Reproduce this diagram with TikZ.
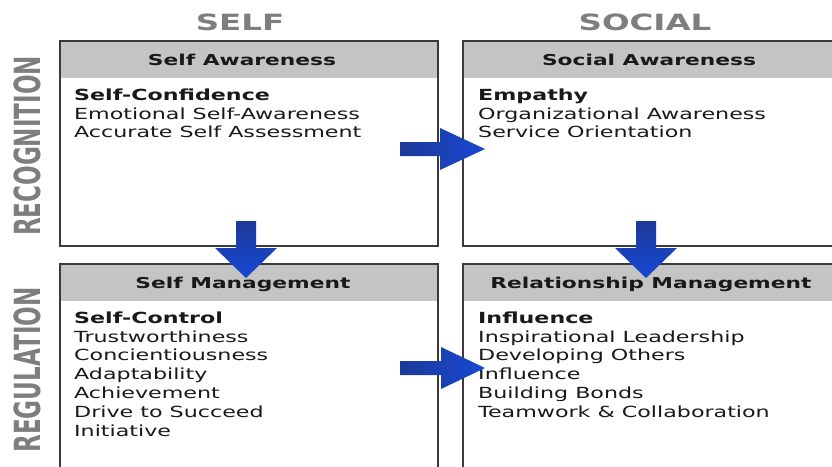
\documentclass[tikz,border=0pt]{standalone}
\usepackage{fontspec}
\setmainfont{DejaVu Sans}
\newfontfamily\bodyf[FakeStretch=1.45]{DejaVu Sans}
\newfontfamily\vertf[FakeStretch=0.64]{DejaVu Sans}
\definecolor{hdrgray}{HTML}{C4C4C4}
\definecolor{lblgray}{HTML}{7E7E7E}
\definecolor{boxline}{HTML}{3A3A3A}
\definecolor{arrdark}{HTML}{1C3A98}
\definecolor{arrlight}{HTML}{1848D4}
\begin{document}
\begin{tikzpicture}[x=1pt,y=-1pt,
  quad/.style={draw=boxline, line width=1.5pt, anchor=north west, inner sep=0pt,
    path picture={\fill[hdrgray] (path picture bounding box.north west) rectangle ([yshift=-37pt]path picture bounding box.north east);}},
  hdrtxt/.style={anchor=base, inner sep=0pt, font=\bodyf\bfseries\fontsize{15}{18}\selectfont, text=black!90},
  bodytxt/.style={anchor=north west, inner sep=0pt, align=left, font=\bodyf\fontsize{15.3}{18.8}\selectfont, text=black!90},
  coltitle/.style={anchor=base, inner sep=0pt, font=\bodyf\bfseries\fontsize{22.4}{24}\selectfont, text=lblgray},
  rowtitle/.style={anchor=center, inner sep=0pt, rotate=90, font=\vertf\bfseries\fontsize{36}{40}\selectfont, text=lblgray},
  hblock/.style={left color=arrdark, right color=arrlight},
  vblock/.style={top color=arrdark, bottom color=arrlight}]
\useasboundingbox (0,0) rectangle (832,466);
\fill[white] (0,0) rectangle (832,466);

% column and row titles
\node[coltitle] (self) at (240,30) {SELF};
\node[coltitle] (social) at (645,30) {SOCIAL};
\node[rowtitle] (recog) at (27,146) {RECOGNITION};
\node[rowtitle] (regul) at (27,370) {REGULATION};

% boxes
\node[quad, minimum width=378pt, minimum height=205pt] (sa) at (59,40) {};
\node[quad, minimum width=378pt, minimum height=205pt] (soa) at (462,40) {};
\node[quad, minimum width=378pt, minimum height=212pt] (sm) at (59,263) {};
\node[quad, minimum width=378pt, minimum height=212pt] (rm) at (462,263) {};

% headers
\node[hdrtxt] (saH) at (242,65) {Self Awareness};
\node[hdrtxt] (soaH) at (649,65) {Social Awareness};
\node[hdrtxt] (smH) at (243,288) {Self Management};
\node[hdrtxt] (rmH) at (651,288) {Relationship Management};

% contents
\node[bodytxt] (saB) at (74,88.5) {\textbf{Self-Confidence}\\Emotional Self-Awareness\\Accurate Self Assessment};
\node[bodytxt] (soaB) at (478,88.5) {\textbf{Empathy}\\Organizational Awareness\\Service Orientation};
\node[bodytxt] (smB) at (74,311.5) {\textbf{Self-Control}\\Trustworthiness\\Concientiousness\\Adaptability\\Achievement\\Drive to Succeed\\Initiative};
\node[bodytxt] (rmB) at (478,311.5) {\textbf{Influence}\\Inspirational Leadership\\Developing Others\\Influence\\Building Bonds\\Teamwork \& Collaboration};

% block arrows
\shade[hblock] (400,142) -- (440,142) -- (440,128) -- (485,149) -- (440,170) -- (440,156) -- (400,156) -- cycle;
\shade[hblock] (400,361) -- (441,361) -- (441,347) -- (485,368) -- (441,389) -- (441,375) -- (400,375) -- cycle;
\shade[vblock] (236,221) -- (256,221) -- (256,248) -- (277,248) -- (246,278) -- (215,248) -- (236,248) -- cycle;
\shade[vblock] (636,221) -- (656,221) -- (656,248) -- (677,248) -- (646,278) -- (615,248) -- (636,248) -- cycle;
\end{tikzpicture}
\end{document}
